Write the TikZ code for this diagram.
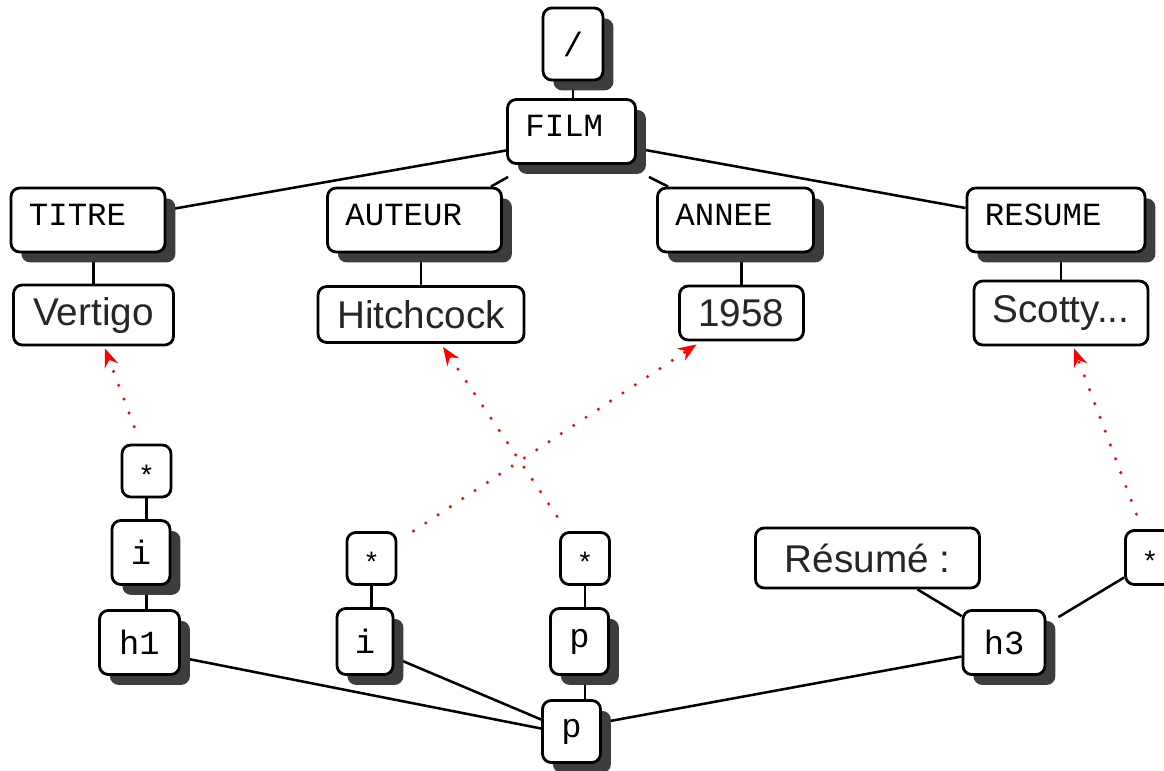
\documentclass[tikz,border=0pt]{standalone}
\usepackage{fontspec}
\setmainfont{Liberation Sans}
\newfontfamily\tagfont{Liberation Mono}
\usetikzlibrary{arrows.meta,calc,shadows,backgrounds}

\begin{document}
\begin{tikzpicture}[
    x=0.025cm, y=-0.025cm,
    every node/.style={line width=2pt,rounded corners=0.22cm},
    shadowed/.style={drop shadow={shadow xshift=0.26cm,shadow yshift=-0.26cm,opacity=1,fill=black!76}},
    elem/.style={draw,fill=white,shadowed,font=\tagfont\fontsize{23}{25}\selectfont,align=left,
        text width=#1,inner xsep=0.45cm,inner ysep=0.1cm,text height=0.825cm,text depth=0.575cm},
    tag/.style={draw,fill=white,shadowed,font=\tagfont\fontsize{24}{26}\selectfont},
    anybox/.style={draw,fill=white,font=\tagfont\fontsize{20}{22}\selectfont,text height=0.7cm,
        minimum width=1.225cm,minimum height=1.3cm},
    val/.style={draw,fill=white,text=black!85,font=\fontsize{27.5}{30}\selectfont},
    link/.style={line width=1.8pt},
    ref/.style={red,line width=2.4pt,line cap=round,dash pattern=on 0pt off 10.5pt,-{Stealth[length=13pt,width=10pt]}},
]
\useasboundingbox (0,0) rectangle (1164,770);

% document tree
\node[tag,minimum width=1.5cm,minimum height=1.8cm] (root) at (573,44) {/};
\node[elem=2.3cm] (film) at (571.5,131.5) {FILM};
\node[elem=2.95cm] (titre) at (88,220) {TITRE};
\node[elem=3.45cm] (auteur) at (414.5,220) {AUTEUR};
\node[elem=3.0cm] (annee) at (735.5,220) {ANNEE};
\node[elem=3.55cm] (resume) at (1056,220) {RESUME};

% text values
\node[val,minimum width=4cm,minimum height=1.5cm] (vertigo) at (93.5,315) {Vertigo};
\node[val,minimum width=5.15cm,minimum height=1.4cm] (hitchcock) at (421,314.5) {Hitchcock};
\node[val,minimum width=3.1cm,minimum height=1.35cm] (y1958) at (741.5,313) {1958};
\node[val,minimum width=4.35cm,minimum height=1.6cm] (scotty) at (1061,313) {Scotty...};

% result tree
\node[anybox] (any1) at (146.5,471) {*};
\node[tag,minimum width=1.45cm,minimum height=1.6cm] (i1) at (141,552.5) {i};
\node[tag,minimum width=2cm,minimum height=1.6cm] (h1) at (139.5,642.5) {h1};
\node[anybox] (any2) at (371.5,558.5) {*};
\node[tag,minimum width=1.4cm,minimum height=1.65cm] (i2) at (365,641.5) {i};
\node[anybox] (any3) at (585,558.5) {*};
\node[tag,minimum width=1.45cm,minimum height=1.65cm] (p1) at (579.5,641.5) {p};
\node[tag,minimum width=1.45cm,minimum height=1.55cm] (p2) at (571.5,731.5) {p};
\node[val,minimum width=5.6cm,minimum height=1.5cm] (resumelbl) at (867.5,558) {Résumé :};
\node[tag,minimum width=2.05cm,minimum height=1.6cm] (h3) at (1004,642.5) {h3};
\node[anybox,minimum height=1.35cm] (any4) at (1150,557.5) {*};

% Connections
\begin{scope}[on background layer]
\draw[link] (root.south) -- (root.south |- film.north);
\draw[link] ($(film.west)+(0,19)$) -- ($(titre.east)+(0,-10)$);
\draw[link] ($(film.south west)+(2,12)$) -- ($(auteur.north east)+(-12,0)$);
\draw[link] ($(film.south east)+(12,12)$) -- ($(annee.north west)+(12,0)$);
\draw[link] ($(film.east)+(0,17)$) -- ($(resume.west)+(0,-12)$);

\draw[link] (vertigo.north) -- (vertigo.north |- titre.south);
\draw[link] (hitchcock.north) -- (hitchcock.north |- auteur.south);
\draw[link] (y1958.north) -- (y1958.north |- annee.south);
\draw[link] (scotty.north) -- (scotty.north |- resume.south);

\draw[link] (any1.south) -- (any1.south |- h1.north);
\draw[link] (any2.south) -- (any2.south |- i2.north);
\draw[link] (any3.south) -- (any3.south |- p2.north);
\draw[link] ($(h1.east)+(0,15)$) -- ($(p2.west)+(0,-3)$);
\draw[link] ($(i2.east)+(0,16)$) -- ($(p2.west)+(0,-12)$);
\draw[link] ($(h3.west)+(0,14)$) -- ($(p2.east)+(0,-9)$);
\draw[link] ($(resumelbl.south)+(50,0)$) -- ($(h3.north west)+(0,7)$);
\draw[link] ($(any4.west)+(0,20)$) -- ($(h3.north east)+(12,8)$);
\end{scope}

% References
\draw[ref,shorten <=0.45cm] ($(any1.north)+(-6,0)$) -- ($(vertigo.south)+(11.5,2)$);
\draw[ref,shorten <=0.45cm] ($(any3.north)+(-18,0)$) -- ($(hitchcock.south)+(22,3)$);
\draw[ref] ($(any2.north east)+(16,0)$) -- ($(y1958.south)+(-45,3)$);
\draw[ref,shorten <=0.4cm] ($(any4.north)+(-8,0)$) -- ($(scotty.south)+(13,2)$);

\end{tikzpicture}
\end{document}
